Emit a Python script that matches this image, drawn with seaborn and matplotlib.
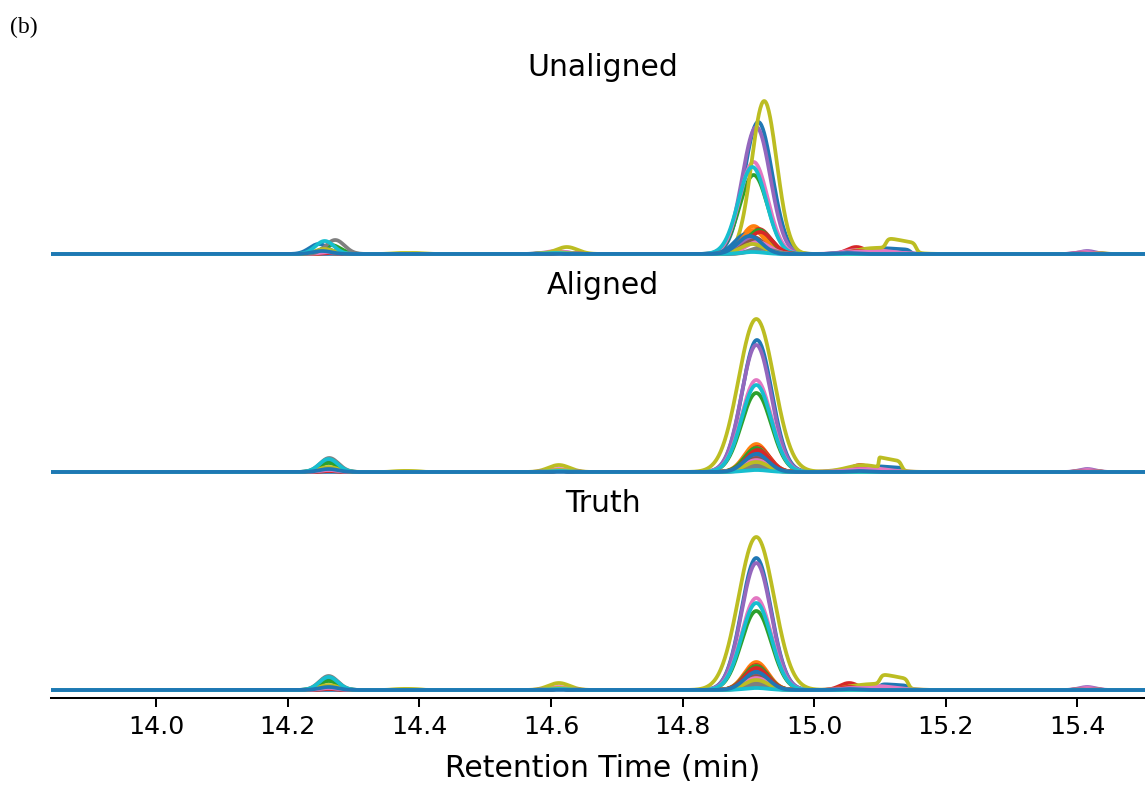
import numpy as np
import pandas as pd
import matplotlib
matplotlib.use("Agg")
import matplotlib.pyplot as plt
import seaborn as sns

sns.set_style("ticks")
plt.rcParams["font.family"] = ["DejaVu Sans"]
plt.rcParams["text.color"] = "black"
plt.rcParams["axes.labelcolor"] = "black"
plt.rcParams["xtick.color"] = "black"
plt.rcParams["axes.edgecolor"] = "black"

# ---------------------------------------------------------------------------
# Chromatogram data: 21 runs, each described by its peaks (intensity, a.u.)
# ---------------------------------------------------------------------------
panels = ["Unaligned", "Aligned", "Truth"]
samples = [f"run{i + 1:02d}" for i in range(21)]
rt_min, rt_max = 13.84, 15.518
x_ticks = [14.0, 14.2, 14.4, 14.6, 14.8, 15.0, 15.2, 15.4]

# main compound at 14.912 min
main_rt = 14.912
main_height = [132, 28, 79, 25, 127, 17, 92, 7, 153, 87,
               20, 24, 24, 22, 15, 14, 12, 5, 10, 2, 18]
main_sigma = [0.0226, 0.018, 0.0226, 0.018, 0.0226, 0.018, 0.0226, 0.018, 0.027, 0.0226,
              0.018, 0.018, 0.018, 0.018, 0.018, 0.018, 0.018, 0.018, 0.018, 0.018, 0.018]
main_sigma_raw = [0.0213, 0.018, 0.0213, 0.018, 0.0213, 0.018, 0.0213, 0.018, 0.019, 0.0213,
                  0.018, 0.018, 0.018, 0.018, 0.018, 0.018, 0.018, 0.018, 0.018, 0.018, 0.018]

# retention-time offset of every run before alignment, and residual after (min)
raw_shift = [0.003, -0.004, -0.004, 0.004, 0.000, -0.005, -0.004, 0.010, 0.012, -0.006,
             -0.015, -0.005, 0.004, 0.006, -0.008, -0.002, 0.002, 0.010, -0.006, -0.006, -0.010]
aligned_shift = [0.001, 0.000, 0.000, 0.002, 0.000, 0.000, 0.000, 0.001, 0.000, 0.000,
                 0.000, 0.001, 0.000, 0.002, 0.000, 0.000, 0.000, 0.001, 0.000, 0.000, 0.000]

# minor compounds
peak_1426 = [0, 1, 2, 2, 1, 1, 2, 3, 3, 4, 10, 2, 9, 1, 2, 2, 2, 14, 5, 13, 3]
peak_1438 = [0, 0, 0, 0, 0, 0, 0, 0, 1, 0, 0, 0, 0, 0, 0, 0, 0, 0, 1, 0, 0]
peak_1461 = [1, 1, 1, 1, 2, 1, 3, 1, 7, 1, 1, 1, 1, 1, 1, 1, 2, 1, 2, 1, 0]
peak_1506 = [1, 0, 0, 7, 1, 0, 1, 0, 1, 1, 1, 0, 1, 3, 1, 1, 1, 0, 0, 0, 1]
ramp_1508 = [2, 0, 1, 0, 2, 0, 4, 0, 6, 1, 0, 0, 0, 0, 1, 0, 2, 0, 0, 0, 0]
plateau_1512 = [4, 0, 0, 0, 0, 0, 0, 0, 10, 0, 0, 0, 0, 0, 0, 0, 0, 0, 0, 0, 0]
peak_1541 = [1, 0, 0, 1, 3, 1, 2, 1, 1, 0, 0, 0, 0, 0, 1, 1, 1, 0, 0, 0, 0]

# per-panel retention of the late features (min)
red_rt = {"Unaligned": 15.060, "Aligned": 15.068, "Truth": 15.053}
ramp_rt = {"Unaligned": 15.090, "Aligned": 15.078, "Truth": 15.092}
plateau_start = {"Unaligned": 15.097, "Aligned": 15.098, "Truth": 15.100}
plateau_end = {"Unaligned": 15.143, "Aligned": 15.133, "Truth": 15.143}
plateau_rise = {"Unaligned": 0.004, "Aligned": 0.0008, "Truth": 0.004}


def gauss(x, c, h, s):
    return h * np.exp(-0.5 * ((x - c) / s) ** 2)


def plateau(x, a, b, h, e_in, e_out):
    return h * 0.5 * (np.tanh((x - a) / e_in) - np.tanh((x - b) / e_out))


rt = np.linspace(rt_min, rt_max, 1679)
frames = []
for panel in panels:
    for i, name in enumerate(samples):
        if panel == "Unaligned":
            d, sig = raw_shift[i], main_sigma_raw[i]
        elif panel == "Aligned":
            d, sig = aligned_shift[i], main_sigma[i]
        else:
            d, sig = 0.0, main_sigma[i]
        y = (gauss(rt, main_rt + d, main_height[i], sig)
             + gauss(rt, 14.262 + d, peak_1426[i], 0.014)
             + gauss(rt, 14.380 + d, peak_1438[i], 0.015)
             + gauss(rt, 14.612 + d, peak_1461[i], 0.016)
             + gauss(rt, red_rt[panel] + d, peak_1506[i], 0.014)
             + gauss(rt, ramp_rt[panel] + d, ramp_1508[i], 0.03)
             + plateau(rt, plateau_start[panel] + d, plateau_end[panel] + d,
                       plateau_1512[i], plateau_rise[panel], 0.004)
             + gauss(rt, 15.415 + d, peak_1541[i], 0.012))
        frames.append(pd.DataFrame({"panel": panel, "sample": name,
                                    "rt": rt, "intensity": y}))
df = pd.concat(frames, ignore_index=True)

palette = [sns.color_palette("tab10")[i % 10] for i in range(len(samples))]

# ---------------------------------------------------------------------------
# Figure
# ---------------------------------------------------------------------------
W, H = 1145, 785
fig = plt.figure(figsize=(W / 100, H / 100), dpi=100)

ax_left = 51 / W
ax_w = (1155 - 51) / W
ax_h = 176 / H
bottoms_px = [262, 480, 698]

axes = []
for panel, bpx in zip(panels, bottoms_px):
    ax = fig.add_axes([ax_left, (H - bpx) / H, ax_w, ax_h])
    sub = df[df["panel"] == panel]
    sns.lineplot(data=sub, x="rt", y="intensity", hue="sample",
                 hue_order=samples, palette=palette, estimator=None,
                 sort=False, linewidth=2.7, legend=False, ax=ax)
    ax.set_xlim(rt_min, rt_max)
    ax.set_ylim(-8, 168)
    ax.set_title(panel, fontsize=21.5, pad=7, color="black")
    ax.set_xlabel("")
    ax.set_ylabel("")
    ax.set_yticks([])
    for side in ["top", "right", "left", "bottom"]:
        ax.spines[side].set_visible(False)
    axes.append(ax)

for ax in axes[:-1]:
    ax.set_xticks([])

bottom_ax = axes[-1]
bottom_ax.spines["bottom"].set_visible(True)
bottom_ax.spines["bottom"].set_linewidth(1.45)
bottom_ax.set_xticks(x_ticks)
bottom_ax.set_xticklabels([f"{t:.1f}" for t in x_ticks])
bottom_ax.tick_params(axis="x", labelsize=18.2, length=6.3, width=1.45, pad=6,
                      colors="black")
bottom_ax.set_xlabel("Retention Time (min)", fontsize=21.5, labelpad=11,
                     color="black")

fig.text(0.009, 0.965, "(b)", family=["Liberation Serif", "DejaVu Serif"],
         fontsize=17, ha="left", va="center", color="black")

fig.savefig("out.png", dpi=100)
